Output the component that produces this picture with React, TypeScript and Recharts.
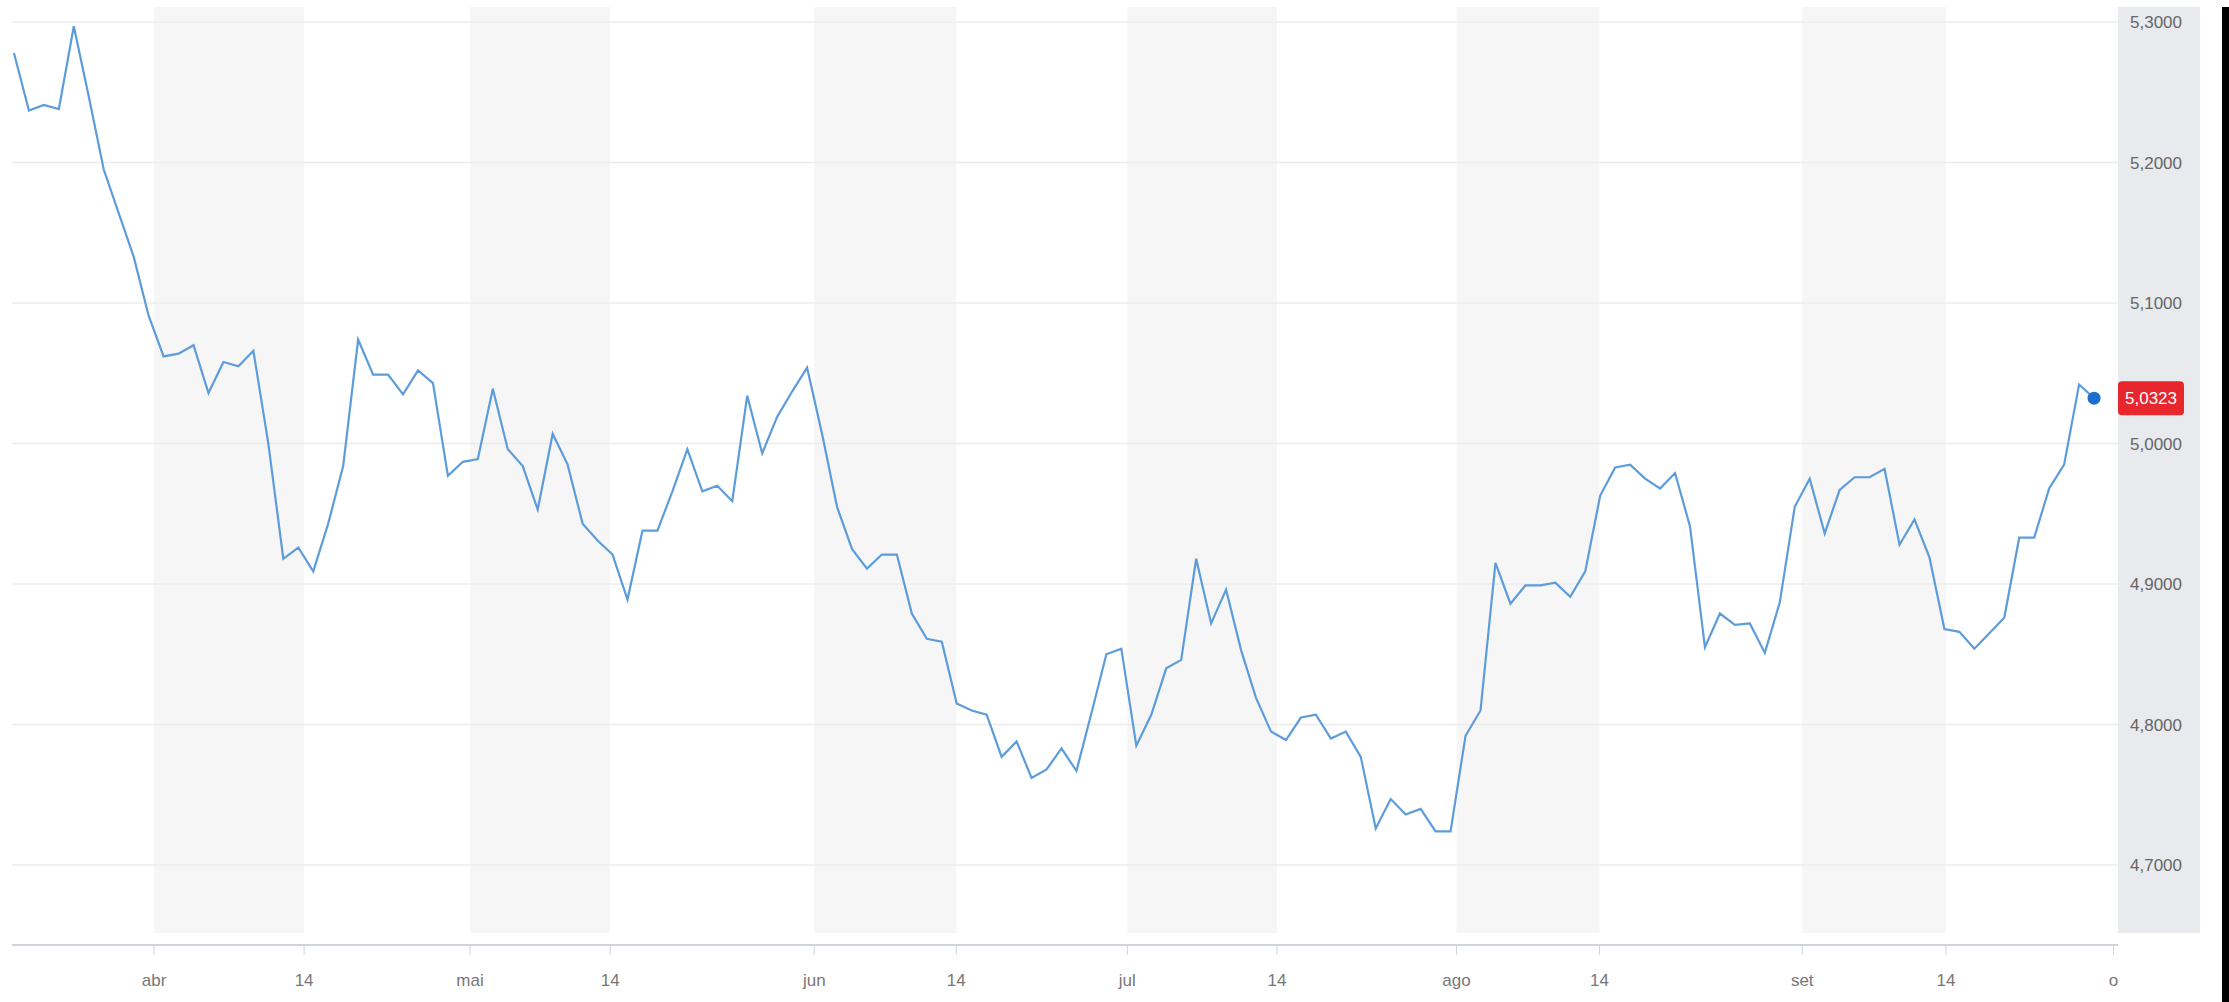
import { LineChart, Line, XAxis, YAxis, ReferenceArea, ReferenceLine } from "recharts";

// daily closes, one per trading day (20 mar -> 29 set)
const values = [
  5.278, 5.237, 5.241, 5.238, 5.297, 5.247, 5.195, 5.164, 5.133, 5.091,
  5.062, 5.064, 5.07, 5.036, 5.058, 5.055, 5.066, 5.0, 4.918, 4.926,
  4.909, 4.943, 4.984, 5.074, 5.049, 5.049, 5.035, 5.052, 5.043, 4.977,
  4.987, 4.989, 5.039, 4.996, 4.984, 4.953, 5.007, 4.985, 4.943, 4.931,
  4.921, 4.889, 4.938, 4.938, 4.966, 4.996, 4.966, 4.97, 4.959, 5.034,
  4.993, 5.019, 5.037, 5.054, 5.007, 4.955, 4.925, 4.911, 4.921, 4.921,
  4.879, 4.861, 4.859, 4.815, 4.81, 4.807, 4.777, 4.788, 4.762, 4.768,
  4.783, 4.767, 4.808, 4.85, 4.854, 4.785, 4.807, 4.84, 4.846, 4.918,
  4.872, 4.896, 4.853, 4.819, 4.795, 4.789, 4.805, 4.807, 4.79, 4.795,
  4.777, 4.726, 4.747, 4.736, 4.74, 4.724, 4.724, 4.792, 4.81, 4.915,
  4.886, 4.899, 4.899, 4.901, 4.891, 4.909, 4.963, 4.983, 4.985, 4.975,
  4.968, 4.979, 4.941, 4.855, 4.879, 4.871, 4.872, 4.851, 4.887, 4.955,
  4.975, 4.936, 4.967, 4.976, 4.976, 4.982, 4.928, 4.946, 4.919, 4.868,
  4.866, 4.854, 4.865, 4.876, 4.933, 4.933, 4.968, 4.985, 5.042, 5.0323,
];

// tick positions are in trading-day index units
const xTickPositions = [9.36, 19.39, 30.48, 39.84, 53.48, 62.97, 74.4, 84.4, 96.4, 105.95, 119.5, 129.1, 140.3];
const xTickLabels = ["abr", "14", "mai", "14", "jun", "14", "jul", "14", "ago", "14", "set", "14", "o"];
const yTicks = [4.7, 4.8, 4.9, 5.0, 5.1, 5.2, 5.3];
const lastValue = 5.0323;

const FONT = '"Liberation Sans", Arial, Helvetica, sans-serif';
const fmt = (v: number) => v.toFixed(4).replace(".", ",");

const chartData = values.map((v, i) => ({ idx: i, value: v }));

// alternate shading: month start -> 14
const bands = xTickPositions
  .map((p, i) => (i % 2 === 0 && i + 1 < xTickPositions.length ? [p, xTickPositions[i + 1]] : null))
  .filter(Boolean) as number[][];

const LastLabel = (props: any) => {
  const { viewBox } = props;
  if (!viewBox) return null;
  const x = viewBox.x + viewBox.width;
  const y = viewBox.y;
  return (
    <g>
      <rect x={x} y={y - 17} width={66} height={34} rx={4} fill="#e8262d" />
      <text
        x={x + 33}
        y={y}
        fill="#fff"
        fontSize={17}
        fontFamily={FONT}
        textAnchor="middle"
        dominantBaseline="central"
      >
        {fmt(lastValue)}
      </text>
    </g>
  );
};

const LastDot = (props: any) => {
  const { cx, cy, index } = props;
  if (index !== values.length - 1) return <g key={`d${index}`} />;
  return <circle key={`d${index}`} cx={cx} cy={cy} r={6.5} fill="#1d6fce" />;
};

export default function App() {
  return (
    <div style={{ position: "absolute", left: 0, top: 0, width: 2229, height: 1002, background: "#fff" }}>
      <div style={{ position: "absolute", left: 2118, top: 7, width: 82, height: 926, background: "#e8eaed" }} />
      <div style={{ position: "absolute", left: 2222, top: 7, width: 7, height: 995, background: "#000" }} />
      <div style={{ position: "absolute", left: 0, top: 0 }}>
        <LineChart width={2229} height={1002} data={chartData} margin={{ top: 7, right: 29, bottom: 0, left: 12 }}>
          {bands.map(([a, b], i) => (
            <ReferenceArea
              key={`band${i}`}
              x1={a}
              x2={b}
              y1={4.6516}
              y2={5.3107}
              fill="#f6f6f6"
              fillOpacity={1}
              stroke="none"
            />
          ))}
          {yTicks.map((t) => (
            <ReferenceLine key={`g${t}`} y={t} stroke="#ececec" strokeWidth={1.5} />
          ))}
          <XAxis
            dataKey="idx"
            type="number"
            domain={[-0.13, 140.6]}
            ticks={xTickPositions}
            interval={0}
            allowDataOverflow
            height={57}
            tickFormatter={(v: number) => xTickLabels[xTickPositions.indexOf(v)] ?? ""}
            axisLine={{ stroke: "#cfd3da", strokeWidth: 2 }}
            tickLine={{ stroke: "#cfd3da" }}
            tickSize={10}
            tickMargin={19}
            tick={{ fill: "#777", fontSize: 17, fontFamily: FONT }}
          />
          <YAxis
            orientation="right"
            type="number"
            domain={[4.6431, 5.3107]}
            ticks={yTicks}
            allowDataOverflow
            width={82}
            axisLine={false}
            tickLine={false}
            tickSize={0}
            tickMargin={12}
            tickFormatter={fmt}
            tick={{ fill: "#666", fontSize: 17, fontFamily: FONT }}
          />
          <ReferenceLine y={lastValue} stroke="none" label={<LastLabel />} />
          <Line
            type="linear"
            dataKey="value"
            stroke="#5d9cdb"
            strokeWidth={2.2}
            dot={<LastDot />}
            activeDot={false}
            isAnimationActive={false}
          />
        </LineChart>
      </div>
    </div>
  );
}
